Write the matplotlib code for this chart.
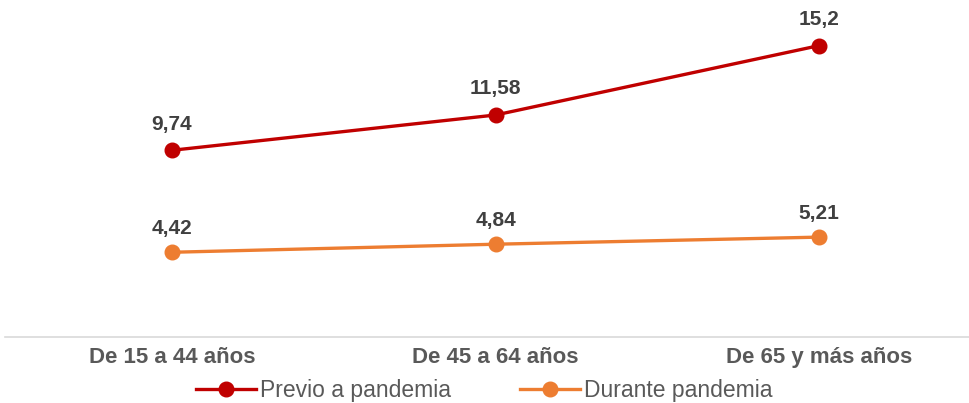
import matplotlib
matplotlib.use("Agg")
import matplotlib.pyplot as plt

categories = ["De 15 a 44 años", "De 45 a 64 años", "De 65 y más años"]
previo = [9.74, 11.58, 15.2]
durante = [4.42, 4.84, 5.21]
previo_labels = ["9,74", "11,58", "15,2"]
durante_labels = ["4,42", "4,84", "5,21"]

plt.rcParams['font.family'] = ['Liberation Sans', 'DejaVu Sans']

fig = plt.figure(figsize=(9.69, 4.03), dpi=100)
ax = fig.add_axes([5/969, 1-337/403, 964/969, 337/403])

x = list(range(len(categories)))
red = "#C00000"
orange = "#ED7D31"
l1, = ax.plot(x, previo, color=red, lw=2.4, marker='o', ms=10.5, label="Previo a pandemia")
l2, = ax.plot(x, durante, color=orange, lw=2.4, marker='o', ms=10.5, label="Durante pandemia")

for xi, v, t in zip(x, previo, previo_labels):
    ax.annotate(t, (xi, v), xytext=(0, 12), textcoords='offset points', ha='center', va='bottom',
                fontsize=15, fontweight='bold', color='#404040')
for xi, v, t in zip(x, durante, durante_labels):
    ax.annotate(t, (xi, v), xytext=(0, 10), textcoords='offset points', ha='center', va='bottom',
                fontsize=15, fontweight='bold', color='#404040')

ax.set_xlim(-167/323.5, 797/323.5)
ax.set_ylim(0, 337/19.17)
ax.set_xticks(x)
ax.set_xticklabels(categories, fontsize=16, fontweight='bold', color='#595959')
ax.tick_params(axis='x', length=0, pad=7)
ax.set_yticks([])
for s in ['top', 'right', 'left']:
    ax.spines[s].set_visible(False)
ax.spines['bottom'].set_color('#D9D9D9')
ax.spines['bottom'].set_linewidth(1.2)

fig.legend(handles=[l1, l2], loc='center', bbox_to_anchor=(0.5, 12/403), ncol=2, frameon=False,
           fontsize=16.5, labelcolor='#595959', handlelength=2.6, handletextpad=0.2, columnspacing=3.0,
           borderpad=0.0)

fig.savefig("out.png", dpi=100)
